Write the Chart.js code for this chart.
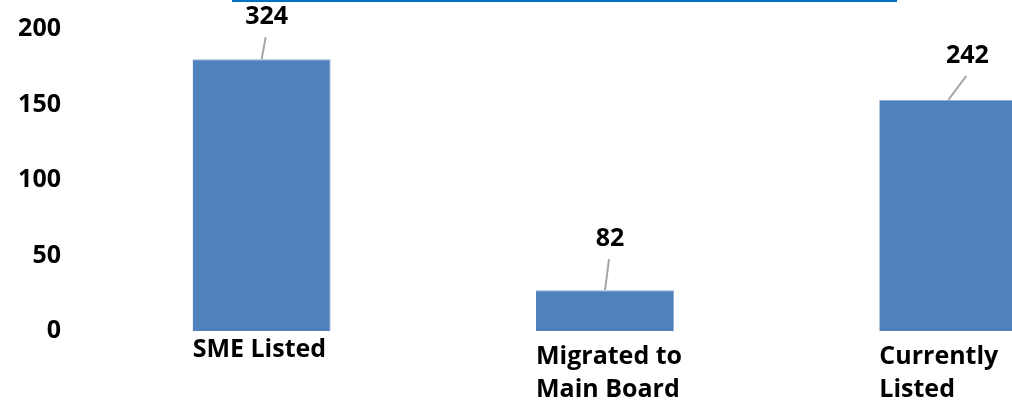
<!DOCTYPE html>
<html>
<head>
<meta charset="utf-8">
<script src="https://cdn.jsdelivr.net/npm/chart.js@4"></script>
<style>
  html, body { margin: 0; padding: 0; background: #fff; overflow: hidden; }
  #wrap { position: relative; width: 1012px; height: 403px; overflow: hidden; }
  #topline { position: absolute; left: 232px; top: 0; width: 665px; height: 2px; background: #0070C0; }
</style>
</head>
<body>
<div id="wrap">
  <canvas id="myChart" width="1120" height="403"></canvas>
  <div id="topline"></div>
</div>
<script>
// datos del grafico
const categories = [['SME Listed'], ['Migrated to', 'Main Board'], ['Currently', 'Listed']]
const barValues = [180, 27, 153]
const labelValues = [324, 82, 242]
const yTicks = [0, 50, 100, 150, 200]

// desplazamiento de las etiquetas respecto al tope de la barra
const labelOffsets = [[5, -42], [5, -51], [19, -44]]

const FONT = "'Open Sans', sans-serif"

// etiquetas con linea guia + etiquetas del eje x
const calloutPlugin = {
  id: 'callouts',
  afterDatasetsDraw(chart) {
    const ctx = chart.ctx
    const meta = chart.getDatasetMeta(0)
    ctx.save()
    meta.data.forEach((bar, i) => {
      const [dx, dy] = labelOffsets[i]
      const lx = bar.x + dx
      const ly = bar.y + dy
      // linea guia
      ctx.strokeStyle = '#A6A6A6'
      ctx.lineWidth = 2
      ctx.beginPath()
      ctx.moveTo(bar.x, bar.y)
      ctx.lineTo(lx - 1, ly + 20)
      ctx.stroke()
      // valor
      ctx.fillStyle = '#000'
      ctx.font = 'bold 25px ' + FONT
      ctx.textAlign = 'center'
      ctx.textBaseline = 'middle'
      ctx.fillText(String(labelValues[i]), lx, ly)
      // categoria
      const left = bar.x - bar.width / 2
      ctx.textAlign = 'left'
      const startY = categories[i].length > 1 ? 357 : 350
      categories[i].forEach((line, j) => {
        ctx.fillText(line, left, startY + j * 33)
      })
    })
    ctx.restore()
  }
}

const ctx = document.getElementById('myChart').getContext('2d')
const myChart = new Chart(ctx, {
  type: 'bar',
  data: {
    labels: categories,
    datasets: [{
      data: barValues,
      backgroundColor: '#4F81BD',
      borderColor: '#8FB0DA',
      borderWidth: { top: 1, right: 1, left: 0, bottom: 0 },
      categoryPercentage: 1,
      barPercentage: 0.402
    }]
  },
  options: {
    responsive: false,
    animation: false,
    layout: { padding: { top: 29, bottom: 72, left: 14, right: 0 } },
    plugins: {
      legend: { display: false },
      tooltip: { enabled: false }
    },
    scales: {
      x: {
        grid: { display: false, drawTicks: false },
        border: { display: false },
        ticks: { display: false }
      },
      y: {
        min: 0,
        max: 200,
        afterFit: (axis) => { axis.width = 76 },
        afterBuildTicks: (axis) => { axis.ticks = yTicks.map(v => ({ value: v })) },
        grid: { display: false, drawTicks: true, tickLength: 29 },
        border: { display: false },
        ticks: {
          padding: 0,
          color: '#000',
          font: { family: FONT, size: 25, weight: 'bold' }
        }
      }
    }
  },
  plugins: [calloutPlugin]
})
</script>
</body>
</html>
